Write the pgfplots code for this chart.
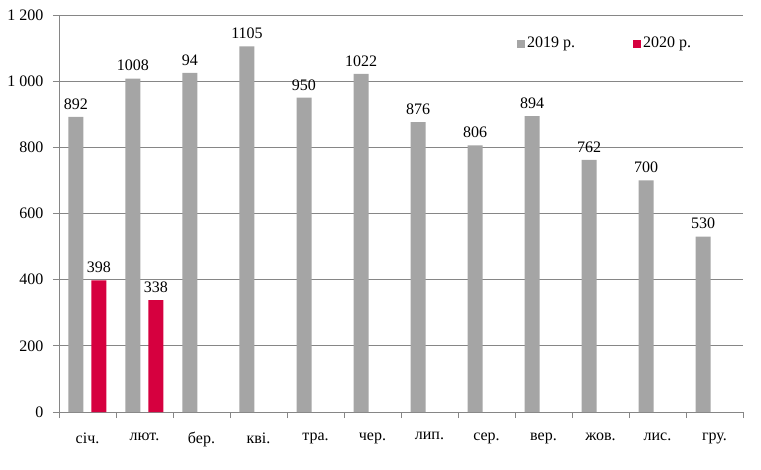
\documentclass[border=0pt]{standalone}
\usepackage{pgfplots}
\pgfplotsset{compat=1.18}
\usepackage{fontspec}
\setmainfont{Liberation Serif}
\definecolor{gbar}{RGB}{165,165,165}
\definecolor{rbar}{RGB}{214,0,63}
\definecolor{axgray}{RGB}{134,134,134}
\begin{document}
\fontsize{16}{19}\selectfont
\begin{tikzpicture}
\path[use as bounding box] (-59pt,-57pt) rectangle (702pt,412pt);
\begin{axis}[
  at={(0,0)}, anchor=south west,
  scale only axis, width=684pt, height=397pt,
  ymin=0, ymax=1200,
  xmin=-0.5, xmax=11.5,
  ybar, bar width=15pt,
  axis x line*=bottom, axis y line*=left,
  axis line style={axgray, line width=0.8pt},
  ymajorgrids, grid style={axgray, line width=0.8pt},
  ytick={0,200,400,600,800,1000,1200},
  yticklabels={0,200,400,600,800,1 000,1 200},
  xtick={-0.5,0.5,...,11.5},
  xticklabels={},
  extra x ticks={0,1,2,3,4,5,6,7,8,9,10,11},
  extra x tick labels={січ.,лют.,бер.,кві.,тра.,чер.,лип.,сер.,вер.,жов.,лис.,гру.},
  extra x tick style={major tick length=0pt, grid=none, xticklabel style={yshift=-15pt}},
  tick align=outside, major tick length=6pt,
  tick style={axgray, line width=0.8pt},
  yticklabel style={xshift=-4pt},
  /pgf/number format/assume math mode=true,
  ticklabel style={font=\fontsize{16}{19}\selectfont},
  nodes near coords,
  point meta=explicit symbolic,
  every node near coord/.append style={font=\fontsize{16}{19}\selectfont, yshift=2pt},
  legend style={draw=none, fill=none, at={(0.665,0.955)}, anchor=north west,
    legend columns=2, /tikz/every even column/.append style={column sep=56pt},
    font=\fontsize{16}{19}\selectfont},
  legend image code/.code={\fill[#1] (0pt,-4pt) rectangle (8pt,4pt);},
]
\addplot[fill=gbar, draw=none, bar shift=-11.5pt] coordinates {
 (0,892) [892] (1,1008) [1008] (2,1025) [94] (3,1105) [1105]
 (4,950) [950] (5,1022) [1022] (6,876) [876] (7,806) [806]
 (8,894) [894] (9,762) [762] (10,700) [700] (11,530) [530]
};
\addplot[fill=rbar, draw=none, bar shift=11.5pt] coordinates {
 (0,398) [398] (1,338) [338]
};
\legend{2019 р.,2020 р.}
\end{axis}
\end{tikzpicture}
\end{document}
